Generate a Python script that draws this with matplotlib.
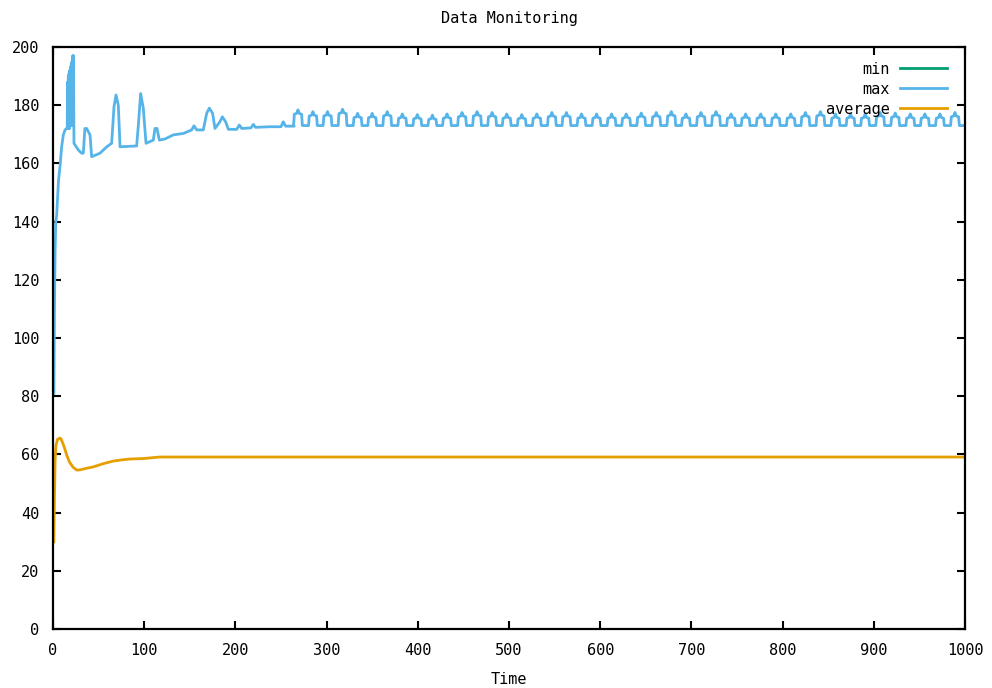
import matplotlib
matplotlib.use('Agg')
import matplotlib.pyplot as plt

plt.rcParams['font.family'] = ['DejaVu Sans Mono']

# average curve
avg_x = [1, 1.6, 2.3, 3.2, 5, 7.7, 9, 12, 15, 18, 22, 26, 30, 35, 44, 55, 66, 75, 84, 100, 117, 130, 1000]
avg_y = [30, 45, 58, 63, 65.2, 65.6, 65.2, 62.8, 59.8, 57.4, 55.6, 54.6, 54.7, 55.1, 55.7, 56.8, 57.7, 58.1, 58.4, 58.6, 59.1, 59.1, 59.1]

# max curve, start-up part (read point by point)
max_x_start = [1, 1.6, 2.3, 3, 4, 5, 6, 7.7, 9.5, 11.3, 13.2, 15, 15.6, 16.0, 16.4, 16.8, 17.2, 17.6, 18.0,
               18.4, 18.8, 19.2, 19.6, 20.0, 20.4, 20.8, 21.2, 21.6, 22.0, 22.4, 23.0, 27.8, 31.4, 33.2, 35,
               36.9, 40.6, 42.4, 51.5, 58.9, 64.3, 66.9, 69.1, 71.6, 73.5, 91.7, 93.6, 96.1, 99, 102, 110,
               111.8, 114, 116.6, 122.8, 132, 143, 152, 154.6, 157.6, 164.8, 168.5, 171.4, 175, 177.6, 183,
               185.7, 189.3, 192.3, 201.4, 204.3, 207, 217, 219.7, 222, 238, 250, 252.5, 255, 264.5]
max_y_start = [81, 110, 130, 140, 142, 148, 154, 159, 165.7, 169.8, 171.5, 172, 172, 188, 172, 190, 172,
               191, 172, 192, 173, 193, 173, 194, 173, 195, 174, 197, 174, 197, 166.9, 164.6, 163.5, 163.5,
               172, 172, 169.8, 162.3, 163.5, 165.7, 166.9, 179.5, 183.5, 180, 165.7, 166, 173.2, 184, 179,
               166.9, 168, 172, 172, 168, 168.4, 169.8, 170.3, 171.5, 172.9, 171.5, 171.5, 177.2, 179,
               177.2, 172, 174.3, 176, 174.3, 171.7, 171.7, 173.2, 172, 172.2, 173.4, 172.4, 172.6, 172.6,
               174.3, 172.8, 172.8]

# periodic part: peak positions and peak heights of each bump, trough level
bump_x = [268.6, 285, 301, 317.5, 334, 350, 366.5, 383, 399.5, 416, 432, 448.5, 465, 481.5, 497.5,
          514, 530.5, 547, 563, 579.5, 596, 612.5, 628.5, 645, 661.5, 678, 694, 710.5, 727, 743.5,
          759.5, 776, 792.5, 809, 825, 841.5, 858, 874.5, 890.5, 907, 923.5, 940, 956, 972.5, 989]
bump_top = [178.4, 177.8, 177.8, 178.6, 177.2, 177.2, 177.8, 177.0, 176.8, 176.6, 177.0, 177.5, 177.8,
            177.5, 177.0, 176.8, 177.0, 177.5, 177.5, 177.0, 177.0, 177.0, 177.0, 177.3, 177.5, 177.8,
            177.0, 177.5, 177.8, 177.0, 177.0, 177.0, 177.0, 177.0, 177.5, 177.8, 177.0, 177.0, 177.0,
            177.5, 177.3, 177.0, 177.0, 177.0, 177.5]
bump_base = 173.0

max_x = list(max_x_start)
max_y = list(max_y_start)
for c, top in zip(bump_x, bump_top):
    max_x += [c - 4.8, c - 4.0, c - 1.4, c, c + 1.4, c + 4.0, c + 4.8]
    max_y += [bump_base, top - 1.5, top - 1.2, top, top - 1.2, top - 1.5, bump_base]
max_x.append(1000)
max_y.append(bump_base)

fig = plt.figure(figsize=(9.92, 6.88), dpi=100)
ax = fig.add_axes([53 / 992, 1 - 629 / 688, 912 / 992, 582 / 688])

ax.plot([], [], color='#009e73', lw=2, label='min')
ax.plot(max_x, max_y, color='#56b4e9', lw=2, label='max')
ax.plot(avg_x, avg_y, color='#e69f00', lw=2, label='average')

ax.set_xlim(0, 1000)
ax.set_ylim(0, 200)
ax.set_xticks(range(0, 1001, 100))
ax.set_yticks(range(0, 201, 20))

for side in ['bottom', 'top', 'left', 'right']:
    ax.spines[side].set_color('black')
    ax.spines[side].set_linewidth(1.6)

ax.tick_params(axis='both', which='both', direction='in', length=6, width=1.5,
               top=True, right=True, labelsize=11, pad=10)

fig.text(509 / 992, 1 - 19 / 688, 'Data Monitoring', ha='center', va='center', fontsize=11)
fig.text(509 / 992, 1 - 679 / 688, 'Time', ha='center', va='center', fontsize=11)

ax.legend(loc='upper right', bbox_to_anchor=(0.9803, 0.975), frameon=False, markerfirst=False,
          fontsize=11, handlelength=3.1, handletextpad=0.65, labelspacing=0.33,
          borderpad=0, borderaxespad=0)

fig.savefig('out.png', dpi=100)
